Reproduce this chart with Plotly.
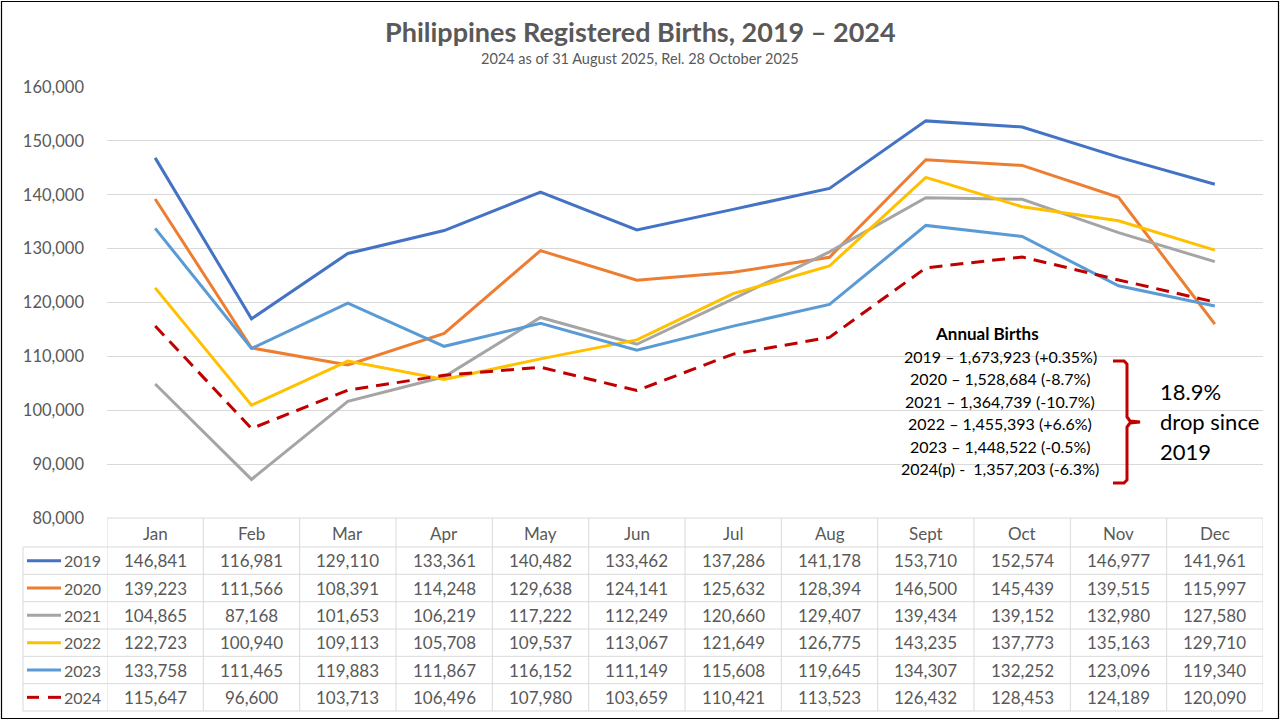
import plotly.graph_objects as go

months = ["Jan", "Feb", "Mar", "Apr", "May", "Jun", "Jul", "Aug", "Sept", "Oct", "Nov", "Dec"]
years = ["2019", "2020", "2021", "2022", "2023", "2024"]
births_2019 = [146841, 116981, 129110, 133361, 140482, 133462, 137286, 141178, 153710, 152574, 146977, 141961]
births_2020 = [139223, 111566, 108391, 114248, 129638, 124141, 125632, 128394, 146500, 145439, 139515, 115997]
births_2021 = [104865, 87168, 101653, 106219, 117222, 112249, 120660, 129407, 139434, 139152, 132980, 127580]
births_2022 = [122723, 100940, 109113, 105708, 109537, 113067, 121649, 126775, 143235, 137773, 135163, 129710]
births_2023 = [133758, 111465, 119883, 111867, 116152, 111149, 115608, 119645, 134307, 132252, 123096, 119340]
births_2024 = [115647, 96600, 103713, 106496, 107980, 103659, 110421, 113523, 126432, 128453, 124189, 120090]
series = [births_2019, births_2020, births_2021, births_2022, births_2023, births_2024]
colors = ["#4472C4", "#ED7D31", "#A5A5A5", "#FFC000", "#5B9BD5", "#C00000"]
dashes = ["solid", "solid", "solid", "solid", "solid", "13px,8px"]

title_text = "Philippines Registered Births, 2019 – 2024"
subtitle_text = "2024 as of 31 August 2025, Rel. 28 October 2025"
annual_title = "Annual Births"
annual_lines = [
    "2019 – 1,673,923 (+0.35%)",
    "2020 – 1,528,684 (-8.7%)",
    "2021 – 1,364,739 (-10.7%)",
    "2022 – 1,455,393 (+6.6%)",
    "2023 – 1,448,522 (-0.5%)",
    "2024(p) -  1,357,203 (-6.3%)",
]
drop_lines = ["18.9%", "drop since", "2019"]

W, H = 1280, 720
FONT = "Lato"
GRAY = "#595959"
GRID = "#D9D9D9"

def px(x):
    return x / W

def py(y):
    return 1 - y / H

X0, X1 = 107, 1263
Y_TOP, Y_BOT = 87, 518
header_top, header_bot = 518, 547
row_h = (711 - 547) / 6

fig = go.Figure()
for yr, vals, c, d in zip(years, series, colors, dashes):
    fig.add_trace(go.Scatter(
        x=list(range(12)), y=vals, mode="lines", name=yr,
        line=dict(color=c, width=3, dash=d), showlegend=False,
    ))

shapes = []
annotations = []

def text(x, y, t, size, color=GRAY, xanchor="center", xref="paper", bold=False):
    annotations.append(dict(
        x=x, xref=xref, y=y, yref="paper", text=f"<b>{t}</b>" if bold else t,
        xanchor=xanchor, yanchor="middle", showarrow=False,
        font=dict(family=FONT, size=size, color=color),
    ))

# table grid
line_style = dict(color=GRID, width=1)
shapes.append(dict(type="line", xref="paper", yref="paper", x0=px(X0), x1=px(X1),
                   y0=py(header_top), y1=py(header_top), line=line_style))
for r in range(7):
    yy = header_bot + r * row_h
    shapes.append(dict(type="line", xref="paper", yref="paper", x0=px(23), x1=px(X1),
                       y0=py(yy), y1=py(yy), line=line_style))
shapes.append(dict(type="line", xref="paper", yref="paper", x0=px(23), x1=px(23),
                   y0=py(header_bot), y1=py(711), line=line_style))
for i in range(13):
    shapes.append(dict(type="line", xref="x", yref="paper", x0=i - 0.5, x1=i - 0.5,
                       y0=py(header_top), y1=py(711), line=line_style))

# header
for i, m in enumerate(months):
    text(i, py((header_top + header_bot) / 2 + 1), m, 17, xref="x")
# rows
for r, (yr, vals, c, d) in enumerate(zip(years, series, colors, dashes)):
    yc = header_bot + (r + 0.5) * row_h
    for i, v in enumerate(vals):
        text(i, py(yc), f"{v:,}", 17, xref="x")
    text(px(103), py(yc), yr, 16, xanchor="right")
    if d == "solid":
        shapes.append(dict(type="line", xref="paper", yref="paper", x0=px(27), x1=px(61),
                           y0=py(yc), y1=py(yc), line=dict(color=c, width=3)))
    else:
        shapes.append(dict(type="line", xref="paper", yref="paper", x0=px(27), x1=px(39),
                           y0=py(yc), y1=py(yc), line=dict(color=c, width=3)))
        shapes.append(dict(type="line", xref="paper", yref="paper", x0=px(48), x1=px(61),
                           y0=py(yc), y1=py(yc), line=dict(color=c, width=3)))

# title
text(0.5, py(32), title_text, 27, bold=True)
text(0.5, py(58), subtitle_text, 14.5)

# annual births box
text(px(987), py(333), annual_title, 17, color="black", bold=True)
for k, t in enumerate(annual_lines):
    text(px(1000), py(356 + k * 22.5), t, 16, color="black")
for k, t in enumerate(drop_lines):
    text(px(1158), py(392 + k * 29.5), t, 22, color="black", xanchor="left")

# bracket
pts = [(1113, 361), (1124, 361), (1127, 364), (1127, 417), (1130, 421), (1140, 422),
       (1130, 423), (1127, 427), (1127, 480), (1124, 483), (1113, 483)]
path = "M " + " L ".join(f"{px(a):.5f},{py(b):.5f}" for a, b in pts)
shapes.append(dict(type="path", xref="paper", yref="paper", path=path,
                   line=dict(color="#C00000", width=3)))

# outer border
shapes.append(dict(type="rect", xref="paper", yref="paper", x0=px(1.5), x1=px(1278.5),
                   y0=py(1.5), y1=py(718.5), line=dict(color="black", width=1.2)))

fig.update_layout(
    template="none",
    width=W, height=H, margin=dict(l=0, r=0, t=0, b=0, pad=0),
    paper_bgcolor="white", plot_bgcolor="white",
    xaxis=dict(domain=[px(X0), px(X1)], range=[-0.5, 11.5], showgrid=False, zeroline=False,
               showticklabels=False, showline=False, ticks="", automargin=False, fixedrange=True),
    yaxis=dict(domain=[py(Y_BOT), py(Y_TOP)], range=[80000, 160000], dtick=10000,
               tickformat=",d", showgrid=True, gridcolor=GRID, gridwidth=1, zeroline=False,
               showline=False, ticks="", ticklabelstandoff=22, automargin=False, fixedrange=True,
               tickfont=dict(family=FONT, size=16.5, color=GRAY)),
    shapes=shapes, annotations=annotations,
)

fig.write_html("out.html", config={"displayModeBar": False},
               post_script="document.body.style.margin='0px';")
